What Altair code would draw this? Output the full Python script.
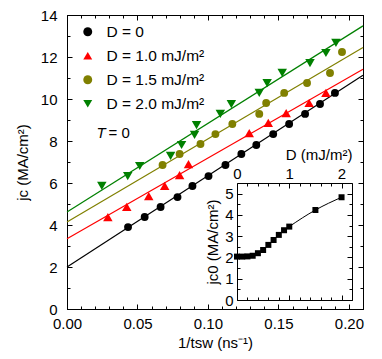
import altair as alt
import pandas as pd

# ---------------- data ----------------
series_names = ["D = 0", "D = 1.0 mJ/m²", "D = 1.5 mJ/m²", "D = 2.0 mJ/m²"]
series_colors = ["#000000", "#ff0000", "#808000", "#008000"]
series_shapes = ["circle", "triangle-up", "circle", "triangle-down"]

x_d0 = [0.0433, 0.0551, 0.0664, 0.0784, 0.0890, 0.1004, 0.1124, 0.1237, 0.1343, 0.1463, 0.1576, 0.1689, 0.1795, 0.1901]
y_d0 = [3.90, 4.38, 4.86, 5.33, 5.86, 6.33, 6.86, 7.38, 7.81, 8.33, 8.81, 9.29, 9.76, 10.29]

x_d1 = [0.0290, 0.0424, 0.0580, 0.0693, 0.0799, 0.0862, 0.1293, 0.1428, 0.1555, 0.1718, 0.1837]
y_d1 = [4.38, 4.86, 5.38, 5.86, 6.38, 6.90, 8.38, 8.86, 9.33, 9.81, 10.29]

x_d15 = [0.0678, 0.0799, 0.0947, 0.1053, 0.1173, 0.1364, 0.1413, 0.1541, 0.1703, 0.1866, 0.1951]
y_d15 = [6.86, 7.38, 7.86, 8.33, 8.81, 9.29, 9.81, 10.29, 10.76, 11.24, 12.24]

x_d2 = [0.0247, 0.0431, 0.0516, 0.0735, 0.0813, 0.0905, 0.0919, 0.1088, 0.1166, 0.1364, 0.1420, 0.1527, 0.1724, 0.1837, 0.1908]
y_d2 = [5.86, 6.33, 6.81, 7.29, 7.81, 8.29, 8.76, 9.29, 9.76, 10.29, 10.76, 11.24, 11.71, 12.19, 12.67]

fit_intercept = [2.00, 3.35, 4.14, 4.62]
fit_slope = [43.5, 38.4, 39.6, 42.2]

inset_D = [0.0, 0.1, 0.2, 0.3, 0.4, 0.5, 0.6, 0.7, 0.8, 0.9, 1.0, 1.5, 2.0]
inset_jc0 = [2.04, 2.04, 2.05, 2.08, 2.20, 2.35, 2.59, 2.82, 3.06, 3.28, 3.45, 4.23, 4.83]

x_major = [0.0, 0.05, 0.10, 0.15, 0.20]
x_minor = [0.01, 0.02, 0.03, 0.04, 0.06, 0.07, 0.08, 0.09, 0.11, 0.12, 0.13, 0.14,
           0.16, 0.17, 0.18, 0.19]
y_major = [0, 2, 4, 6, 8, 10, 12, 14]
y_minor = [1, 3, 5, 7, 9, 11, 13]
ix_major = [0, 1, 2]
ix_minor = [0.2, 0.4, 0.6, 0.8, 1.2, 1.4, 1.6, 1.8, 2.2]
iy_major = [0, 1, 2, 3, 4, 5]
iy_minor = [0.5, 1.5, 2.5, 3.5, 4.5]

X_DOMAIN = [0, 0.21]
Y_DOMAIN = [0, 14]
IX_DOMAIN = [0, 2.2]
IY_DOMAIN = [0, 5.5]

# ---------------- layout (pixels) ----------------
W, H = 296, 294
INSET_L, INSET_R, INSET_T, INSET_B = 170, 285, 168, 285
FONT = "Liberation Sans"

# ---------------- tables ----------------
rows = []
for name, xs_, ys_ in zip(series_names, [x_d0, x_d1, x_d15, x_d2], [y_d0, y_d1, y_d15, y_d2]):
    for a, b in zip(xs_, ys_):
        rows.append({"x": a, "y": b, "series": name})
pts = pd.DataFrame(rows)

lrows = []
for name, b0, m in zip(series_names, fit_intercept, fit_slope):
    for xv in X_DOMAIN:
        lrows.append({"x": xv, "y": b0 + m * xv, "series": name})
lines = pd.DataFrame(lrows)

inset = pd.DataFrame({"x": inset_D, "y": inset_jc0})
note = pd.DataFrame({"x": [0.021], "y": [8.38], "a": ["T"], "b": ["= 0"]})

xs = alt.Scale(domain=X_DOMAIN, nice=False)
ys = alt.Scale(domain=Y_DOMAIN, nice=False)
ixs = alt.Scale(domain=IX_DOMAIN, range=[INSET_L, INSET_R], nice=False)
iys = alt.Scale(domain=IY_DOMAIN, range=[INSET_B, INSET_T], nice=False)

color_scale = alt.Scale(domain=series_names, range=series_colors)
shape_scale = alt.Scale(domain=series_names, range=series_shapes)

legend = alt.Legend(title=None, orient="none", legendX=13, legendY=9, labelFontSize=15.5,
                    labelFont=FONT, labelColor="black", symbolSize=80, rowPadding=7,
                    labelOffset=11, padding=0, symbolStrokeWidth=0)

# ---------------- main data layer ----------------
main_x_axis = alt.Axis(values=x_major, format=".2f", ticks=False, domain=False,
                       labelPadding=7, titlePadding=4, labelFlush=False)
main_y_axis = alt.Axis(values=y_major, ticks=False, domain=False, labelPadding=10,
                       titlePadding=10, labelFlush=False)

fit_layers = []
for i, (name, col) in enumerate(zip(series_names, series_colors)):
    enc_x = alt.X("x:Q", scale=xs, axis=main_x_axis, title="1/tsw (ns⁻¹)") if i == 0 else alt.X("x:Q", scale=xs)
    enc_y = alt.Y("y:Q", scale=ys, axis=main_y_axis, title="jc (MA/cm²)") if i == 0 else alt.Y("y:Q", scale=ys)
    fit_layers.append(
        alt.Chart(lines[lines.series == name]).mark_line(strokeWidth=1.2, color=col).encode(
            x=enc_x, y=enc_y)
    )

points = alt.Chart(pts).mark_point(filled=True, opacity=1, strokeWidth=0).encode(
    x=alt.X("x:Q", scale=xs),
    y=alt.Y("y:Q", scale=ys),
    color=alt.Color("series:N", scale=color_scale, legend=legend),
    shape=alt.Shape("series:N", scale=shape_scale, legend=legend),
    size=alt.condition("datum.series == 'D = 0' || datum.series == 'D = 1.5 mJ/m²'",
                       alt.value(62), alt.value(90)),
)
note_a = alt.Chart(note).mark_text(align="left", baseline="middle", fontSize=15,
                                   font=FONT, fontStyle="italic", color="black").encode(
    x=alt.X("x:Q", scale=xs), y=alt.Y("y:Q", scale=ys), text="a:N")
note_b = alt.Chart(note).mark_text(align="left", baseline="middle", fontSize=15, dx=12,
                                   font=FONT, color="black").encode(
    x=alt.X("x:Q", scale=xs), y=alt.Y("y:Q", scale=ys), text="b:N")

main_layer = alt.layer(*fit_layers, points, note_a, note_b)


def tick_layer(df, xscale, yscale, xorient, xoff, xvals, yorient, yoff, yvals, size,
               xdomain=False, ydomain=False):
    return alt.Chart(df).mark_point(opacity=0).encode(
        x=alt.X("x:Q", scale=xscale, title=None,
                axis=alt.Axis(orient=xorient, offset=xoff, values=xvals, tickSize=size,
                              labels=False, domain=xdomain, grid=False)),
        y=alt.Y("y:Q", scale=yscale, title=None,
                axis=alt.Axis(orient=yorient, offset=yoff, values=yvals, tickSize=size,
                              labels=False, domain=ydomain, grid=False)),
    )


# inward ticks on the main frame (domains draw the frame)
t_main = [
    tick_layer(pts, xs, ys, "top", -H, x_major, "right", -W, y_major, 5, True, True),
    tick_layer(pts, xs, ys, "bottom", -H, x_major, "left", -W, y_major, 5, True, True),
    tick_layer(pts, xs, ys, "top", -H, x_minor, "right", -W, y_minor, 3),
    tick_layer(pts, xs, ys, "bottom", -H, x_minor, "left", -W, y_minor, 3),
]

# ---------------- inset ----------------
inset_x_axis = alt.Axis(orient="top", offset=-INSET_T, values=ix_major, format="d",
                        ticks=False, domain=True, labelPadding=2, titlePadding=4,
                        titleAnchor="end", labelFlush=False)
inset_y_axis = alt.Axis(orient="left", offset=-INSET_L, values=iy_major, format="d",
                        ticks=False, domain=True, labelPadding=4, titlePadding=4,
                        labelFlush=False)

inset_line = alt.Chart(inset).mark_line(color="black", strokeWidth=1,
                                        interpolate="monotone").encode(
    x=alt.X("x:Q", scale=ixs, axis=inset_x_axis, title="D (mJ/m²)"),
    y=alt.Y("y:Q", scale=iys, axis=inset_y_axis, title="jc0 (MA/cm²)"),
)
inset_pts = alt.Chart(inset).mark_square(color="black", size=36, opacity=1).encode(
    x=alt.X("x:Q", scale=ixs), y=alt.Y("y:Q", scale=iys))
inset_layer = alt.layer(inset_line, inset_pts)

t_inset = [
    tick_layer(inset, ixs, iys, "bottom", -(H - INSET_T), ix_major, "right", -(W - INSET_L), iy_major, 5),
    tick_layer(inset, ixs, iys, "top", -INSET_B, ix_major, "left", -INSET_R, iy_major, 5,
               xdomain=True, ydomain=True),
    tick_layer(inset, ixs, iys, "bottom", -(H - INSET_T), ix_minor, "right", -(W - INSET_L), iy_minor, 3),
    tick_layer(inset, ixs, iys, "top", -INSET_B, ix_minor, "left", -INSET_R, iy_minor, 3),
]

chart = alt.layer(main_layer, *t_main, inset_layer, *t_inset).resolve_scale(
    x="independent", y="independent"
).properties(
    width=W, height=H,
    autosize=alt.AutoSizeParams(type="none"),
    padding={"left": 59, "top": 7, "right": 11, "bottom": 42},
).configure_view(
    stroke="black", strokeWidth=1
).configure_axis(
    labelFont=FONT, titleFont=FONT, labelFontSize=15, titleFontSize=15,
    titleFontWeight="normal", labelColor="black", titleColor="black",
    tickColor="black", domainColor="black", grid=False, tickWidth=1, domainWidth=1,
)

chart.save("out.html", embed_options={"renderer": "svg", "actions": False})
